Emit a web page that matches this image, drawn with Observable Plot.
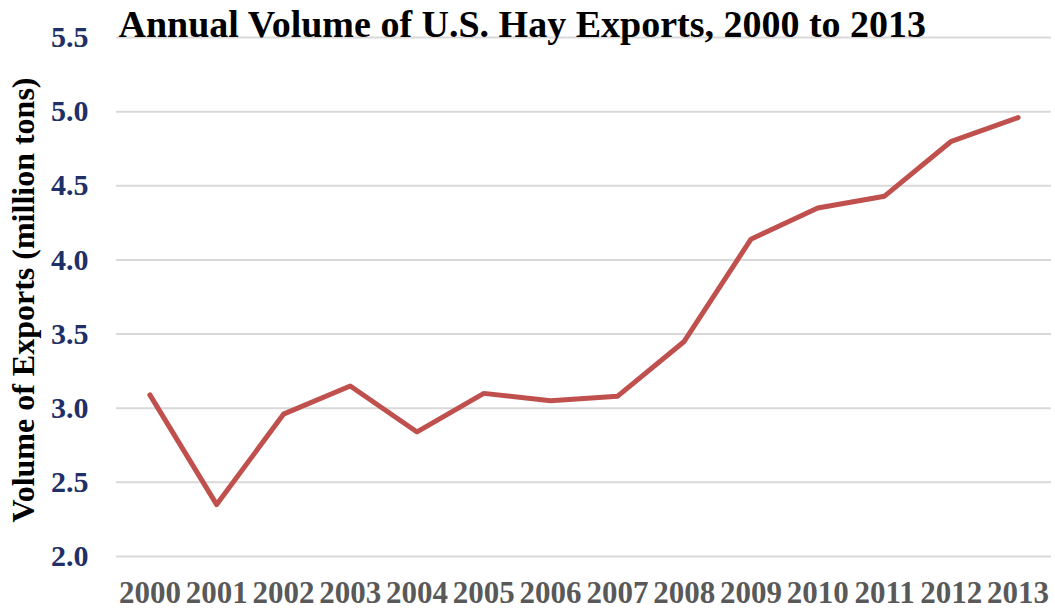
<!DOCTYPE html>
<html>
<head>
<meta charset="utf-8">
<script src="https://cdn.jsdelivr.net/npm/d3@7"></script>
<script src="https://cdn.jsdelivr.net/npm/@observablehq/plot@0.6"></script>
<style>
  html, body { margin: 0; padding: 0; background: #fff; }
  #chart { width: 1055px; height: 609px; }
</style>
</head>
<body>
<div id="chart"></div>
<script>
const years = ["2000","2001","2002","2003","2004","2005","2006","2007","2008","2009","2010","2011","2012","2013"];
const exportsMillionTons = [3.09, 2.35, 2.96, 3.15, 2.84, 3.10, 3.05, 3.08, 3.45, 4.14, 4.35, 4.43, 4.80, 4.96];
const yTicks = [2.0, 2.5, 3.0, 3.5, 4.0, 4.5, 5.0, 5.5];
const titleText = "Annual Volume of U.S. Hay Exports, 2000 to 2013";
const yTitle = "Volume of Exports (million tons)";

const data = years.map((y, i) => ({year: y, value: exportsMillionTons[i]}));
const serif = "'Liberation Serif', 'Times New Roman', serif";

const chart = Plot.plot({
  width: 1055,
  height: 609,
  marginLeft: 116,
  marginRight: 4,
  marginTop: 37,
  marginBottom: 53,
  style: {fontFamily: serif, background: "#fff"},
  x: {type: "point", domain: years, padding: 0.5, round: false},
  y: {domain: [2, 5.5]},
  marks: [
    Plot.ruleY(yTicks, {stroke: "#d9d9d9", strokeWidth: 2}),
    Plot.axisY({ticks: yTicks, tickSize: 0, tickPadding: 28, tickFormat: d3.format(".1f"),
      fontSize: 30, fontWeight: "bold", fill: "#1f3068", label: null}),
    Plot.axisX({tickSize: 0, tickPadding: 24, fontSize: 31, fontWeight: "bold", fill: "#595959", label: null}),
    Plot.line(data, {x: "year", y: "value", stroke: "#c0504d", strokeWidth: 5, strokeLinejoin: "round", strokeLinecap: "round"}),
    Plot.text([yTitle], {text: d => d, frameAnchor: "left", textAnchor: "middle", rotate: -90, dx: -93, dy: 3, fontSize: 32, fontWeight: "bold", fill: "#000"}),
    Plot.text([titleText], {text: d => d, frameAnchor: "top-left", textAnchor: "start", lineAnchor: "bottom", dx: 2, dy: -1, fontSize: 38, fontWeight: "bold", fill: "#000"})
  ]
});
document.getElementById("chart").appendChild(chart);
</script>
</body>
</html>
